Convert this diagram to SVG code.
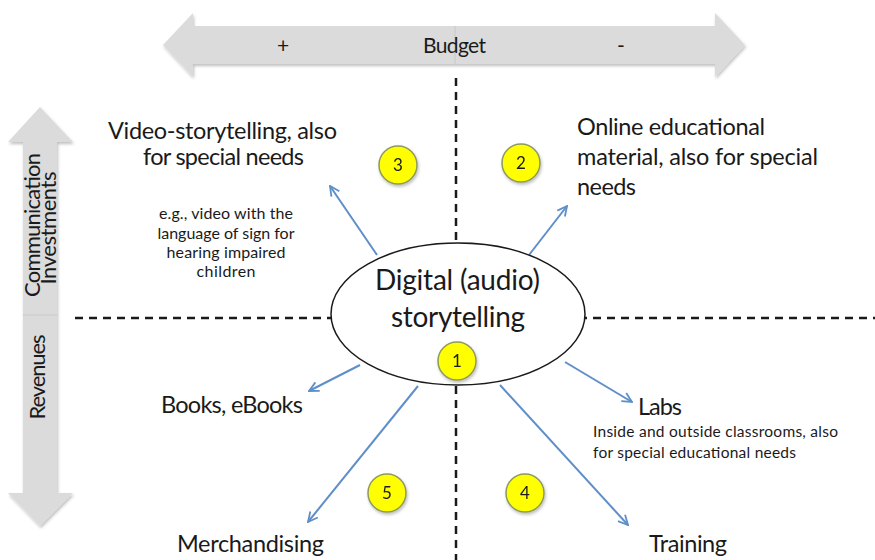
<svg xmlns="http://www.w3.org/2000/svg" width="875" height="560" viewBox="0 0 875 560">
  <defs>
    <style>
      text { font-family: Lato, "Liberation Sans", sans-serif; fill: #1a1a1a; }
      .big { font-size: 23.5px; }
      .side { font-size: 22px; }
      .core { font-size: 28px; }
      .small { font-size: 16px; }
      .note { font-size: 15.5px; }
      .axis { font-size: 21px; }
      .num { font-size: 17px; text-anchor: middle; }
      .band { fill: #dbdbdb; }
      .seam { stroke: #c8c8c8; stroke-width: 1; }
      .dash { fill: none; stroke: #1a1a1a; stroke-width: 2.5; stroke-dasharray: 8 6; }
      .link { fill: none; stroke: #5f8fc8; stroke-width: 2; marker-end: url(#head); }
      .badge { fill: #ffff00; stroke: #8c9a5c; stroke-width: 1.5; }
    </style>
    <marker id="head" viewBox="0 0 10 10" refX="9" refY="5" markerWidth="6" markerHeight="6" orient="auto" markerUnits="strokeWidth">
      <path d="M1,1 L9,5 L1,9" fill="none" stroke="#5f8fc8" stroke-width="1.5" stroke-linejoin="miter"/>
    </marker>
    <filter id="soft" x="-10%" y="-10%" width="120%" height="130%">
      <feDropShadow dx="1" dy="2" stdDeviation="1.5" flood-color="#000" flood-opacity="0.25"/>
    </filter>
  </defs>

  <rect width="875" height="560" fill="#ffffff"/>

  <!-- Budget axis (horizontal double arrow) -->
  <g id="budget-axis" filter="url(#soft)">
    <polygon class="band" points="455,26 193,26 193,13 163,45 193,77 193,64 455,64"/>
    <polygon class="band" points="455,26 715,26 715,13 745,45 715,77 715,64 455,64"/>
    <line class="seam" x1="455" y1="26" x2="455" y2="64"/>
  </g>
  <g id="budget-labels">
    <text class="axis" x="283" y="53" text-anchor="middle">+</text>
    <text class="axis" x="423" y="53" textLength="63">Budget</text>
    <text class="axis" x="621" y="53" text-anchor="middle">-</text>
  </g>

  <!-- Investments / Revenues axis (vertical double arrow) -->
  <g id="vertical-axis" filter="url(#soft)">
    <polygon class="band" points="23,315 23,142 8,142 40,107 73,142 57,142 57,315"/>
    <polygon class="band" points="23,315 23,493 8,493 40,526 73,493 57,493 57,315"/>
    <line class="seam" x1="23" y1="315" x2="57" y2="315"/>
  </g>
  <g id="vertical-labels">
    <text class="side" transform="translate(40,225) rotate(-90)" text-anchor="middle" textLength="144">Communication</text>
    <text class="side" transform="translate(56,228) rotate(-90)" text-anchor="middle" textLength="113">Investments</text>
    <text class="side" transform="translate(45,377) rotate(-90)" text-anchor="middle" textLength="85">Revenues</text>
  </g>

  <!-- Quadrant dividers -->
  <g id="dividers">
    <line class="dash" x1="456" y1="78" x2="456" y2="560"/>
    <line class="dash" x1="75" y1="318" x2="875" y2="318"/>
  </g>

  <!-- Connectors from the centre -->
  <g id="connectors">
    <line class="link" x1="377" y1="255" x2="330" y2="186"/>
    <line class="link" x1="529" y1="255" x2="567" y2="206"/>
    <line class="link" x1="360" y1="365" x2="309" y2="391"/>
    <line class="link" x1="418" y1="386" x2="308" y2="522"/>
    <line class="link" x1="565" y1="362" x2="632" y2="402"/>
    <line class="link" x1="500" y1="385" x2="628" y2="525"/>
  </g>

  <!-- Central node -->
  <g id="node-core">
    <ellipse cx="458" cy="314" rx="127" ry="71" fill="#ffffff" stroke="#1a1a1a" stroke-width="1.5"/>
    <text class="core" x="375" y="290" textLength="165">Digital (audio)</text>
    <text class="core" x="391" y="327" textLength="134">storytelling</text>
  </g>

  <!-- Outcome nodes -->
  <g id="node-video">
    <text class="big" x="108" y="139" textLength="229">Video-storytelling, also</text>
    <text class="big" x="143" y="165" textLength="161">for special needs</text>
    <text class="small" x="226" y="219" text-anchor="middle" textLength="134">e.g., video with the</text>
    <text class="small" x="226" y="239" text-anchor="middle" textLength="137">language of sign for</text>
    <text class="small" x="226" y="258" text-anchor="middle" textLength="119">hearing impaired</text>
    <text class="small" x="226" y="277" text-anchor="middle" textLength="59">children</text>
  </g>

  <g id="node-online">
    <text class="big" x="577" y="135" textLength="188">Online educational</text>
    <text class="big" x="577" y="165" textLength="241">material, also for special</text>
    <text class="big" x="577" y="195" textLength="59">needs</text>
  </g>

  <g id="node-books">
    <text class="big" x="161" y="413" textLength="142">Books, eBooks</text>
  </g>

  <g id="node-merch">
    <text class="big" x="177" y="552" textLength="147">Merchandising</text>
  </g>

  <g id="node-labs">
    <text class="big" x="638" y="415" textLength="44">Labs</text>
    <text class="note" x="593" y="437" textLength="245">Inside and outside classrooms, also</text>
    <text class="note" x="593" y="458" textLength="203">for special educational needs</text>
  </g>

  <g id="node-training">
    <text class="big" x="649" y="552" textLength="78">Training</text>
  </g>

  <!-- Numbered badges -->
  <g id="badge-1" filter="url(#soft)">
    <circle class="badge" cx="457" cy="361" r="19"/>
    <text class="num" x="457" y="367">1</text>
  </g>
  <g id="badge-2" filter="url(#soft)">
    <circle class="badge" cx="521" cy="163" r="19"/>
    <text class="num" x="521" y="169">2</text>
  </g>
  <g id="badge-3" filter="url(#soft)">
    <circle class="badge" cx="398" cy="165" r="19"/>
    <text class="num" x="398" y="171">3</text>
  </g>
  <g id="badge-4" filter="url(#soft)">
    <circle class="badge" cx="525" cy="493" r="19"/>
    <text class="num" x="525" y="499">4</text>
  </g>
  <g id="badge-5" filter="url(#soft)">
    <circle class="badge" cx="387" cy="493" r="19"/>
    <text class="num" x="387" y="499">5</text>
  </g>
</svg>
